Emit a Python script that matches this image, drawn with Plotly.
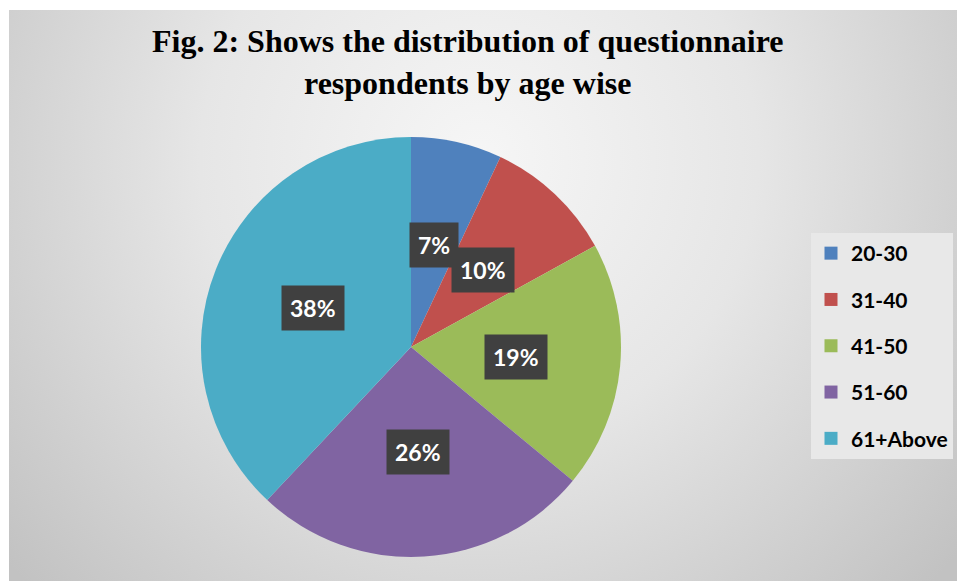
import base64
import math
import plotly.graph_objects as go

# ---- data ----
categories = ["20-30", "31-40", "41-50", "51-60", "61+Above"]
values = [7, 10, 19, 26, 38]
colors = ["#4F81BD", "#C0504D", "#9BBB59", "#8064A2", "#4BACC6"]
title_lines = ["Fig. 2: Shows the distribution of questionnaire", "respondents by age wise"]

W, H = 957, 581
# pie placement (pixels)
PCX, PCY, PR = 411, 347, 210

fig = go.Figure()

fig.add_trace(go.Pie(
    labels=categories,
    values=values,
    marker=dict(colors=colors, line=dict(width=0)),
    sort=False,
    direction="clockwise",
    rotation=0,
    textinfo="none",
    showlegend=False,
    hoverinfo="label+percent",
    domain=dict(x=[(PCX - PR) / W, (PCX + PR) / W],
                y=[1 - (PCY + PR) / H, 1 - (PCY - PR) / H]),
))

# legend entries via dummy traces (one group each for spacing)
for cat, col in zip(categories, colors):
    fig.add_trace(go.Scatter(
        x=[None], y=[None], mode="markers", name=f"<b>{cat}</b>",
        marker=dict(symbol="square", size=13, color=col),
        legendgroup=cat, showlegend=True,
    ))

# data labels at half radius on each slice's mid angle
total = sum(values)
cum = 0
for v in values:
    mid = (cum + v / 2) / total * 2 * math.pi
    cum += v
    x = (PCX + 0.5 * PR * math.sin(mid)) / W
    y = 1 - (PCY - 0.5 * PR * math.cos(mid)) / H
    pct = round(v / total * 100)
    fig.add_annotation(
        x=x, y=y, xref="paper", yref="paper",
        text=f"<b>{pct}%</b>", showarrow=False,
        font=dict(family="Lato, Open Sans, sans-serif", size=23, color="white"),
        bgcolor="#404040", borderpad=8,
        xanchor="center", yanchor="middle",
    )

# title as annotation
fig.add_annotation(
    x=468 / W, y=1 - 21 / H, xref="paper", yref="paper",
    xanchor="center", yanchor="top", showarrow=False,
    text="<b>" + "<br>".join(title_lines) + "</b>",
    font=dict(family="Liberation Serif, Times New Roman, serif", size=32, color="black"),
)

svg = f'''<svg xmlns="http://www.w3.org/2000/svg" width="948" height="571" viewBox="0 0 948 571">
<defs><radialGradient id="g" cx="470" cy="150" r="620" gradientUnits="userSpaceOnUse">
<stop offset="0" stop-color="#f6f6f6"/><stop offset="0.45" stop-color="#e6e6e6"/>
<stop offset="1" stop-color="#c2c2c2"/></radialGradient></defs>
<rect x="0" y="0" width="948" height="571" fill="url(#g)"/></svg>'''
src = "data:image/svg+xml;base64," + base64.b64encode(svg.encode()).decode()

fig.add_layout_image(
    source=src, xref="paper", yref="paper",
    x=9 / W, y=1 - 10 / H, sizex=(W - 9) / W, sizey=(H - 10) / H,
    xanchor="left", yanchor="top", sizing="stretch", layer="below",
)

fig.update_layout(
    width=W, height=H,
    margin=dict(l=0, r=0, t=0, b=0),
    paper_bgcolor="white", plot_bgcolor="rgba(0,0,0,0)",
    xaxis=dict(visible=False, range=[0, 1]),
    yaxis=dict(visible=False, range=[0, 1]),
    legend=dict(
        x=811 / W, xanchor="left", y=1 - 233 / H, yanchor="top",
        bgcolor="#e8e8e8", borderwidth=0,
        font=dict(family="Lato, Open Sans, sans-serif", size=21, color="black"),
        tracegroupgap=16, itemwidth=30,
    ),
    showlegend=True,
)

fig.write_html("out.html")
